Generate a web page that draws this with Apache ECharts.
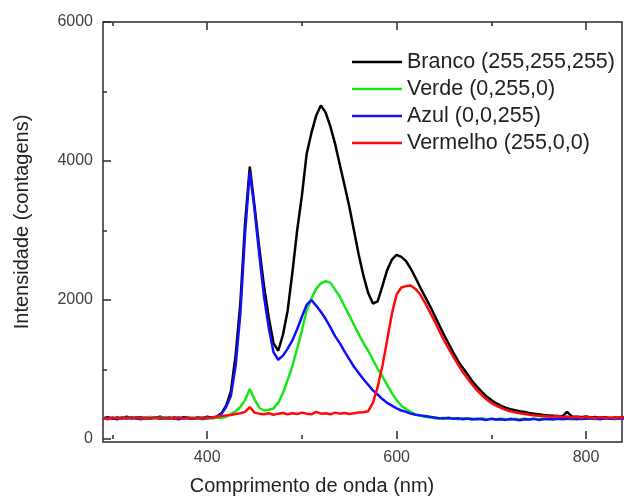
<!DOCTYPE html>
<html>
  <head>
    <meta charset="utf-8" />
    <title>Espectros RGB</title>
    <script src="https://cdn.jsdelivr.net/npm/echarts@6/dist/echarts.min.js"></script>
    <style>
      html, body { margin: 0; padding: 0; background: #fff; }
      #chart { width: 624px; height: 500px; }
    </style>
  </head>
  <body>
    <div id="chart"></div>
    <script>
      // comprimento de onda (nm), passo de 5 nm
      var wl = [
        290, 295, 300, 305, 310, 315, 320, 325, 330, 335,
        340, 345, 350, 355, 360, 365, 370, 375, 380, 385,
        390, 395, 400, 405, 410, 415, 420, 425, 430, 435,
        440, 445, 450, 455, 460, 465, 470, 475, 480, 485,
        490, 495, 500, 505, 510, 515, 520, 525, 530, 535,
        540, 545, 550, 555, 560, 565, 570, 575, 580, 585,
        590, 595, 600, 605, 610, 615, 620, 625, 630, 635,
        640, 645, 650, 655, 660, 665, 670, 675, 680, 685,
        690, 695, 700, 705, 710, 715, 720, 725, 730, 735,
        740, 745, 750, 755, 760, 765, 770, 775, 780, 785,
        790, 795, 800, 805, 810, 815, 820, 825, 830, 835,
        840
      ];
      var branco = [
        300, 315, 290, 310, 300, 320, 295, 305, 315, 295,
        310, 300, 320, 305, 290, 310, 300, 315, 305, 295,
        310, 300, 320, 305, 320, 370, 480, 680, 1200, 1950,
        3100, 3920, 3350, 2750, 2200, 1750, 1380, 1270, 1500, 1850,
        2400, 3000, 3500, 4100, 4400, 4650, 4800, 4700, 4500, 4250,
        3950, 3650, 3350, 3000, 2650, 2350, 2100, 1950, 1980, 2200,
        2430, 2580, 2650, 2620, 2560, 2450, 2320, 2180, 2050, 1920,
        1780, 1640, 1500, 1370, 1240, 1120, 1020, 930, 830, 750,
        680, 610, 560, 515, 480, 450, 430, 415, 400, 390,
        375, 365, 355, 345, 340, 335, 330, 325, 390, 325,
        320, 315, 325, 310, 315, 305, 315, 300, 310, 305,
        310
      ];
      var verde = [
        310, 295, 305, 290, 315, 300, 310, 290, 305, 300,
        320, 295, 305, 310, 300, 290, 315, 300, 295, 310,
        300, 285, 305, 295, 310, 300, 320, 360, 400, 460,
        560, 720, 570, 450, 410, 420, 440, 520, 660, 850,
        1050, 1300, 1560, 1850, 2020, 2160, 2240, 2270, 2250, 2150,
        2050, 1910, 1780, 1640, 1510, 1380, 1270, 1140, 1010, 900,
        780, 660, 560, 480, 430, 390, 355, 335, 320, 310,
        300, 295, 305, 290, 300, 285, 300, 290, 295, 280,
        300, 285, 290, 280, 295, 285, 275, 290, 285, 295,
        280, 290, 285, 295, 280, 290, 285, 295, 290, 280,
        295, 285, 290, 300, 285, 295, 290, 300, 285, 295,
        300
      ];
      var azul = [
        290, 305, 300, 285, 305, 295, 310, 300, 285, 305,
        295, 310, 290, 300, 310, 295, 285, 305, 300, 290,
        305, 295, 300, 310, 320, 360, 460, 620, 1050, 1800,
        2950, 3850, 3300, 2650, 2050, 1600, 1250, 1140, 1200, 1300,
        1420, 1580, 1760, 1930, 2000, 1920, 1830, 1730, 1610, 1480,
        1380, 1260, 1150, 1040, 950, 860, 780, 700, 640, 575,
        520, 480, 440, 410, 390, 365, 350, 340, 330, 320,
        310, 300, 295, 305, 290, 300, 285, 295, 280, 290,
        285, 275, 290, 280, 285, 275, 290, 280, 270, 285,
        280, 290, 275, 285, 290, 280, 295, 285, 290, 300,
        285, 295, 290, 300, 295, 285, 300, 290, 295, 300,
        290
      ];
      var vermelho = [
        300, 285, 310, 300, 290, 305, 300, 315, 295, 305,
        290, 310, 300, 295, 305, 300, 310, 290, 305, 300,
        295, 310, 300, 305, 320, 330, 340, 345, 360, 370,
        390, 460, 380, 365, 355, 370, 350, 365, 375, 355,
        370, 360, 380, 365, 355, 390, 365, 370, 355, 380,
        365, 375, 360, 370, 380, 385, 400, 520, 750, 1050,
        1420, 1800, 2080, 2180, 2200, 2210, 2160, 2080, 1960, 1830,
        1700, 1560, 1420, 1300, 1180, 1070, 960, 870, 780, 700,
        630, 570, 520, 480, 450, 420, 400, 385, 370, 360,
        350, 340, 335, 330, 325, 320, 330, 315, 325, 310,
        320, 305, 315, 310, 300, 315, 305, 310, 300, 315,
        305
      ];

      var seriesNames = ['Branco (255,255,255)', 'Verde (0,255,0)', 'Azul (0,0,255)', 'Vermelho (255,0,0)'];
      var seriesColors = ['#000000', '#19e619', '#1010ff', '#ff0a0a'];
      var seriesValues = [branco, verde, azul, vermelho];

      var xMajorTicks = [400, 600, 800];
      var xMinorTicks = [300, 500, 700];
      var yMajorTicks = [0, 2000, 4000, 6000];
      var yMinorTicks = [1000, 3000, 5000];

      var font = "'Liberation Sans', Arial, sans-serif";
      var ink = '#2b2b2b';
      var tickLine = { color: ink, width: 1.5 };

      function plain(v) { return String(v); }

      function xAxisFor(pos, ticks, len, labels) {
        return {
          type: 'value', position: pos, min: 290, max: 838,
          axisLine: { show: false },
          splitLine: { show: false },
          axisTick: { show: true, inside: true, length: len, customValues: ticks, lineStyle: tickLine },
          axisLabel: labels
            ? { show: true, customValues: ticks, formatter: plain, fontSize: 16, color: '#404040', fontFamily: font, margin: 8 }
            : { show: false }
        };
      }
      function yAxisFor(ticks, len, labels) {
        return {
          type: 'value', position: 'left', min: -43, max: 6000,
          axisLine: { show: false },
          splitLine: { show: false },
          axisTick: { show: true, inside: true, length: len, customValues: ticks, lineStyle: tickLine },
          axisLabel: labels
            ? { show: true, customValues: ticks, formatter: plain, fontSize: 16, color: '#404040', fontFamily: font, margin: 10 }
            : { show: false }
        };
      }

      var series = seriesValues.map(function (vals, k) {
        return {
          name: seriesNames[k],
          type: 'line',
          xAxisIndex: 0,
          yAxisIndex: 0,
          showSymbol: false,
          lineStyle: { color: seriesColors[k], width: 2.5 },
          itemStyle: { color: seriesColors[k] },
          data: vals.map(function (v, i) { return [wl[i], v]; })
        };
      });

      var chart = echarts.init(document.getElementById('chart'), null, { renderer: 'canvas' });
      chart.setOption({
        animation: false,
        backgroundColor: '#ffffff',
        grid: {
          left: 103, right: 2, top: 22, bottom: 58,
          show: true, borderColor: ink, borderWidth: 1.5, backgroundColor: 'transparent'
        },
        xAxis: [
          xAxisFor('bottom', xMajorTicks, 8, true),
          xAxisFor('bottom', xMinorTicks, 4, false),
          xAxisFor('top', xMajorTicks, 8, false),
          xAxisFor('top', xMinorTicks, 4, false)
        ],
        yAxis: [
          yAxisFor(yMajorTicks, 8, true),
          yAxisFor(yMinorTicks, 4, false)
        ],
        legend: {
          orient: 'vertical',
          left: 352,
          top: 51,
          padding: 0,
          itemWidth: 50,
          itemHeight: 2.5,
          itemGap: 5,
          icon: 'rect',
          data: seriesNames,
          textStyle: { fontSize: 21.5, color: '#222', fontFamily: font, lineHeight: 22 }
        },
        graphic: [
          {
            type: 'text', left: 'center', top: 476,
            style: { text: 'Comprimento de onda (nm)', font: '20px ' + font, fill: '#222' }
          },
          {
            type: 'text', x: 22, y: 222, rotation: Math.PI / 2,
            style: {
              text: 'Intensidade (contagens)', font: '20px ' + font, fill: '#222',
              align: 'center', verticalAlign: 'middle'
            }
          }
        ],
        series: series
      });
    </script>
  </body>
</html>
